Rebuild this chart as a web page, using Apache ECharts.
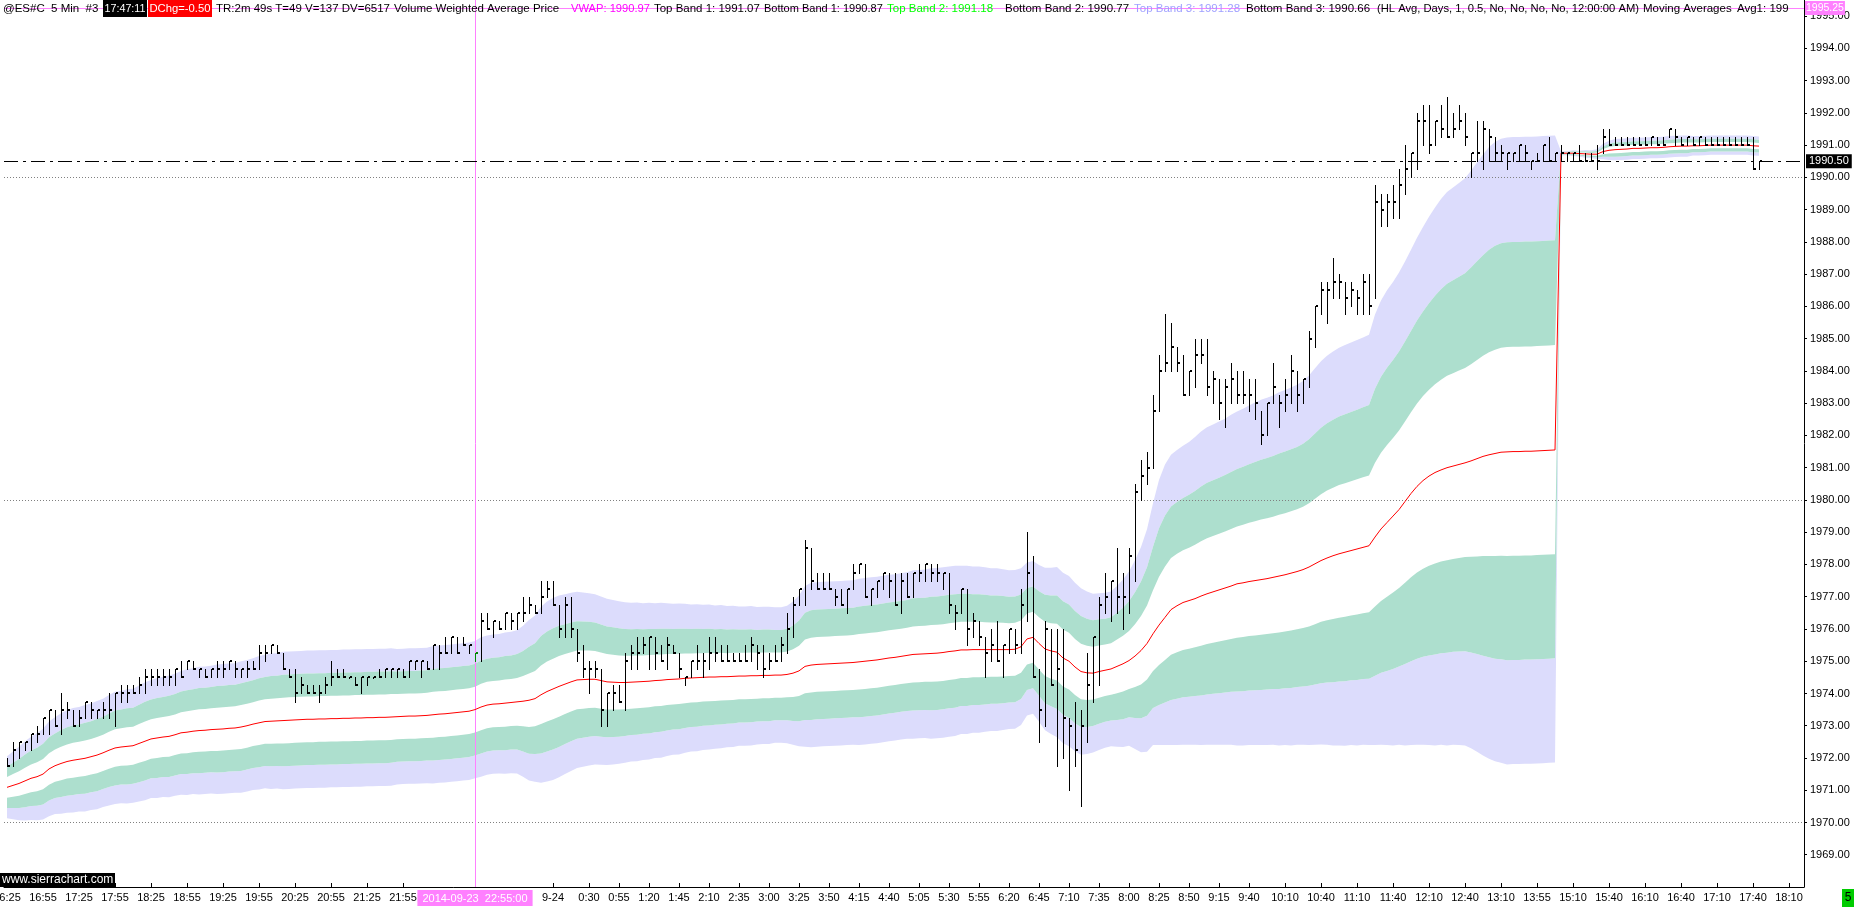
<!DOCTYPE html>
<html>
<head>
<meta charset="utf-8">
<script src="https://cdn.jsdelivr.net/npm/echarts/dist/echarts.min.js"></script>
<style>
html,body{margin:0;padding:0;background:#fff;overflow:hidden;}
#chart{width:1854px;height:908px;}
</style>
</head>
<body>
<div id="chart"></div>
<script>
// ---------------- DATA ----------------
const high = [
1972.0,1972.5,1972.5,1972.5,1972.75,1973.0,1973.25,1973.5,1973.5,1974.0,
1973.75,1973.5,1973.5,1973.75,1973.75,1973.5,1973.75,1974.0,1974.0,1974.25,
1974.25,1974.25,1974.5,1974.75,1974.75,1974.75,1974.75,1974.75,1974.75,1975.0,
1975.0,1975.0,1974.75,1974.75,1974.75,1975.0,1975.0,1975.0,1975.0,1974.75,
1975.0,1975.0,1975.5,1975.5,1975.5,1975.5,1975.25,1974.75,1974.75,1974.5,
1974.25,1974.25,1974.25,1974.5,1975.0,1974.75,1974.75,1974.5,1974.5,1974.5,
1974.5,1974.5,1974.75,1974.75,1974.75,1974.75,1974.75,1975.0,1975.0,1975.0,
1975.0,1975.5,1975.5,1975.75,1975.75,1975.75,1975.75,1975.5,1975.25,1976.5,
1976.5,1976.25,1976.25,1976.5,1976.5,1976.5,1977.0,1977.0,1976.75,1977.5,
1977.5,1977.5,1976.75,1977.0,1977.0,1976.0,1975.5,1975.0,1975.0,1974.75,
1974.0,1974.25,1974.25,1975.25,1975.5,1975.75,1975.75,1975.75,1975.75,1975.5,
1975.75,1975.5,1975.25,1974.5,1975.0,1975.5,1975.25,1975.75,1975.75,1975.5,
1975.5,1975.25,1975.25,1975.5,1975.75,1975.5,1975.5,1975.25,1975.5,1975.75,
1976.5,1977.0,1977.25,1978.75,1978.5,1977.75,1977.75,1977.75,1977.25,1977.25,
1977.25,1978.0,1978.0,1978.0,1977.25,1977.5,1977.75,1977.75,1977.75,1977.75,
1977.75,1977.75,1978.0,1978.0,1978.0,1978.0,1977.75,1977.75,1976.75,1977.25,
1977.25,1976.5,1976.25,1975.75,1976.0,1976.25,1975.5,1976.0,1976.0,1977.25,
1979.0,1978.25,1974.75,1976.25,1976.0,1976.0,1976.0,1973.25,1973.75,1973.5,
1975.25,1975.75,1977.0,1977.75,1977.5,1978.5,1977.75,1978.5,1980.5,1981.25,
1981.5,1983.25,1984.5,1985.75,1985.5,1984.75,1984.5,1984.0,1985.0,1985.0,
1985.0,1984.0,1983.75,1983.75,1984.25,1984.0,1984.0,1983.75,1983.75,1982.75,
1983.0,1984.25,1983.25,1983.75,1984.5,1984.0,1983.75,1985.25,1986.0,1986.75,
1986.75,1987.5,1987.0,1986.75,1986.75,1986.5,1987.0,1987.0,1989.75,1989.5,
1989.5,1989.75,1990.25,1991.0,1990.75,1992.0,1992.25,1992.25,1991.75,1992.25,
1992.5,1992.0,1992.25,1992.0,1990.75,1991.75,1991.75,1991.5,1991.25,1991.0,
1990.75,1990.75,1991.0,1991.0,1990.5,1990.75,1991.0,1991.25,1990.75,1991.0,
1990.75,1990.75,1991.0,1990.75,1990.75,1991.0,1991.5,1991.5,1991.25,1991.25,
1991.25,1991.25,1991.25,1991.25,1991.25,1991.25,1991.25,1991.5,1991.5,1991.25,
1991.25,1991.25,1991.25,1991.25,1991.25,1991.25,1991.25,1991.25,1991.25,1991.25,
1991.25,1991.25,1990.5
];
const low = [
1971.75,1971.75,1972.0,1972.25,1972.25,1972.5,1972.75,1972.75,1973.0,1972.75,
1973.25,1973.0,1973.0,1973.25,1973.25,1973.25,1973.25,1973.25,1973.0,1973.75,
1973.75,1974.0,1974.0,1974.0,1974.25,1974.25,1974.25,1974.25,1974.25,1974.5,
1974.75,1974.75,1974.5,1974.5,1974.5,1974.5,1974.5,1974.75,1974.5,1974.5,
1974.5,1974.75,1974.75,1975.0,1975.25,1975.25,1974.75,1974.5,1973.75,1974.0,
1974.0,1974.0,1973.75,1974.0,1974.25,1974.5,1974.5,1974.5,1974.25,1974.0,
1974.25,1974.5,1974.5,1974.5,1974.5,1974.5,1974.5,1974.5,1974.75,1974.5,
1974.75,1974.75,1974.75,1975.25,1975.25,1975.25,1975.5,1975.25,1975.0,1975.0,
1976.0,1975.75,1976.0,1976.0,1976.0,1976.0,1976.25,1976.5,1976.5,1976.5,
1977.0,1976.75,1975.75,1975.75,1975.75,1975.0,1974.5,1974.0,1974.5,1973.0,
1973.0,1973.5,1973.75,1973.5,1974.75,1974.75,1975.25,1974.75,1974.75,1975.0,
1974.75,1975.25,1974.5,1974.25,1974.5,1974.75,1974.5,1974.75,1975.0,1975.0,
1975.0,1975.0,1975.0,1975.0,1975.0,1974.75,1974.5,1974.75,1975.0,1975.0,
1975.25,1975.75,1976.75,1976.75,1977.25,1977.25,1977.25,1977.25,1976.75,1976.75,
1976.5,1977.25,1977.75,1977.0,1976.75,1977.0,1977.25,1977.0,1976.75,1976.5,
1977.0,1977.0,1977.5,1977.5,1977.5,1977.5,1977.25,1976.5,1976.0,1976.5,
1975.5,1975.75,1975.5,1974.5,1975.0,1975.0,1974.5,1975.25,1975.25,1975.25,
1976.25,1974.5,1972.5,1973.0,1974.25,1971.75,1972.0,1971.0,1971.75,1970.5,
1972.5,1973.75,1974.25,1976.5,1976.25,1976.5,1976.0,1976.5,1977.5,1980.0,
1980.5,1981.0,1982.75,1984.0,1984.0,1984.0,1983.25,1983.25,1983.5,1984.25,
1983.25,1983.0,1982.5,1982.25,1983.0,1983.0,1983.0,1982.75,1982.5,1981.75,
1982.0,1983.0,1982.25,1982.75,1983.0,1982.75,1983.0,1983.5,1984.75,1985.75,
1985.5,1986.25,1986.25,1985.75,1986.0,1985.75,1985.75,1985.75,1986.25,1988.5,
1988.5,1988.75,1988.75,1989.5,1990.0,1990.25,1991.0,1990.75,1991.0,1991.25,
1991.25,1991.25,1991.5,1991.0,1990.0,1990.5,1990.25,1990.5,1990.5,1990.5,
1990.25,1990.5,1990.5,1990.5,1990.25,1990.5,1990.5,1990.5,1990.5,1990.5,
1990.5,1990.5,1990.5,1990.5,1990.5,1990.25,1990.75,1991.0,1991.0,1991.0,
1991.0,1991.0,1991.0,1991.0,1991.0,1991.0,1991.0,1991.25,1991.0,1991.0,
1991.0,1991.0,1991.0,1991.0,1991.0,1991.0,1991.0,1991.0,1991.0,1991.0,
1991.0,1990.25,1990.25
];
const close = [
1971.75,1972.25,1972.5,1972.5,1972.75,1972.75,1973.25,1973.5,1973.0,1973.5,
1973.5,1973.0,1973.25,1973.75,1973.5,1973.5,1973.5,1973.5,1974.0,1974.0,
1974.0,1974.0,1974.25,1974.5,1974.5,1974.5,1974.5,1974.5,1974.75,1974.5,
1975.0,1974.75,1974.75,1974.5,1974.75,1974.75,1974.75,1975.0,1974.75,1974.75,
1974.75,1974.75,1975.25,1975.25,1975.5,1975.25,1974.75,1974.5,1974.0,1974.25,
1974.0,1974.0,1974.0,1974.25,1974.5,1974.5,1974.5,1974.5,1974.25,1974.5,
1974.5,1974.5,1974.5,1974.75,1974.75,1974.75,1974.5,1975.0,1975.0,1975.0,
1974.75,1975.5,1975.25,1975.25,1975.75,1975.25,1975.5,1975.5,1975.25,1976.25,
1976.0,1976.25,1976.0,1976.5,1976.25,1976.5,1976.5,1976.75,1976.5,1977.0,
1977.25,1976.75,1976.0,1976.75,1976.0,1975.25,1974.75,1974.75,1974.75,1973.5,
1974.0,1974.0,1973.75,1975.0,1975.25,1975.25,1975.5,1975.75,1975.25,1975.0,
1975.5,1975.25,1974.75,1974.5,1975.0,1975.0,1975.0,1975.25,1975.25,1975.0,
1975.0,1975.0,1975.0,1975.0,1975.5,1975.25,1974.75,1975.0,1975.0,1975.5,
1976.0,1976.75,1977.25,1978.5,1977.5,1977.25,1977.25,1977.25,1977.0,1976.75,
1977.25,1977.75,1978.0,1977.0,1977.25,1977.5,1977.75,1977.5,1976.75,1977.5,
1977.0,1977.75,1977.75,1978.0,1977.75,1977.75,1977.75,1976.75,1976.5,1977.25,
1976.0,1976.25,1975.75,1975.25,1975.5,1975.0,1975.5,1976.0,1975.5,1976.75,
1977.75,1974.5,1973.5,1976.0,1974.25,1974.75,1973.25,1973.0,1972.25,1973.0,
1974.25,1975.75,1976.75,1977.0,1977.5,1977.0,1977.0,1978.25,1980.25,1980.75,
1981.0,1982.75,1984.0,1984.25,1984.75,1984.25,1983.25,1984.0,1984.5,1984.5,
1983.5,1983.75,1983.0,1983.5,1983.75,1983.25,1983.25,1983.25,1983.0,1982.0,
1983.0,1983.5,1983.0,1983.25,1984.0,1983.25,1983.75,1985.0,1986.0,1986.5,
1986.5,1986.75,1986.75,1986.25,1986.5,1986.25,1986.75,1986.0,1989.25,1989.0,
1989.25,1989.25,1989.75,1990.25,1990.75,1991.75,1991.75,1991.0,1991.75,1991.5,
1991.25,1991.5,1991.75,1991.25,1990.75,1990.75,1991.5,1991.25,1990.75,1990.75,
1990.75,1990.75,1991.0,1990.75,1990.5,1990.5,1991.0,1990.5,1990.75,1990.75,
1990.75,1990.75,1990.5,1990.5,1990.5,1990.5,1991.25,1991.0,1991.0,1991.0,
1991.0,1991.0,1991.0,1991.0,1991.25,1991.0,1991.0,1991.5,1991.25,1991.0,
1991.25,1991.0,1991.25,1991.0,1991.0,1991.0,1991.0,1991.0,1991.0,1991.0,
1991.0,1990.25,1990.5
];
const vwap = [
1971.09,1971.15,1971.21,1971.29,1971.37,1971.42,1971.50,1971.66,1971.76,1971.83,
1971.89,1971.93,1971.96,1971.99,1972.04,1972.09,1972.16,1972.24,1972.31,1972.34,
1972.36,1972.38,1972.45,1972.52,1972.59,1972.62,1972.65,1972.67,1972.72,1972.78,
1972.80,1972.83,1972.85,1972.86,1972.88,1972.89,1972.90,1972.92,1972.93,1972.96,
1973.00,1973.05,1973.09,1973.13,1973.14,1973.15,1973.16,1973.17,1973.18,1973.19,
1973.20,1973.20,1973.21,1973.21,1973.22,1973.22,1973.23,1973.23,1973.24,1973.24,
1973.25,1973.25,1973.26,1973.26,1973.27,1973.28,1973.29,1973.30,1973.30,1973.31,
1973.32,1973.34,1973.36,1973.37,1973.39,1973.41,1973.43,1973.45,1973.50,1973.58,
1973.64,1973.67,1973.68,1973.70,1973.72,1973.74,1973.76,1973.79,1973.84,1973.96,
1974.06,1974.14,1974.22,1974.29,1974.36,1974.42,1974.43,1974.44,1974.44,1974.40,
1974.36,1974.35,1974.34,1974.34,1974.35,1974.36,1974.37,1974.38,1974.40,1974.41,
1974.43,1974.44,1974.45,1974.47,1974.48,1974.49,1974.50,1974.51,1974.51,1974.52,
1974.52,1974.53,1974.54,1974.54,1974.55,1974.55,1974.56,1974.56,1974.57,1974.57,
1974.59,1974.63,1974.70,1974.84,1974.88,1974.90,1974.91,1974.92,1974.93,1974.94,
1974.95,1974.96,1974.98,1975.00,1975.02,1975.04,1975.07,1975.10,1975.12,1975.15,
1975.18,1975.21,1975.22,1975.23,1975.24,1975.25,1975.27,1975.30,1975.32,1975.35,
1975.35,1975.36,1975.36,1975.36,1975.36,1975.36,1975.36,1975.36,1975.37,1975.45,
1975.69,1975.74,1975.55,1975.38,1975.32,1975.28,1975.10,1975.00,1974.82,1974.68,
1974.64,1974.63,1974.68,1974.72,1974.76,1974.84,1974.92,1975.02,1975.16,1975.33,
1975.55,1975.85,1976.12,1976.36,1976.60,1976.72,1976.82,1976.88,1976.94,1977.02,
1977.09,1977.15,1977.21,1977.27,1977.33,1977.40,1977.43,1977.47,1977.50,1977.53,
1977.56,1977.60,1977.64,1977.68,1977.73,1977.78,1977.84,1977.92,1978.02,1978.12,
1978.20,1978.27,1978.33,1978.38,1978.43,1978.48,1978.53,1978.58,1978.85,1979.10,
1979.30,1979.50,1979.70,1979.95,1980.20,1980.42,1980.60,1980.74,1980.85,1980.93,
1981.00,1981.05,1981.10,1981.15,1981.21,1981.28,1981.35,1981.40,1981.44,1981.48,
1981.49,1981.50,1981.50,1981.51,1981.51,1981.52,1981.53,1981.54,1981.55,1990.75,
1990.75,1990.75,1990.74,1990.73,1990.72,1990.72,1990.80,1990.84,1990.86,1990.87,
1990.88,1990.90,1990.90,1990.91,1990.92,1990.92,1990.93,1990.95,1990.96,1990.97,
1990.97,1990.98,1990.98,1990.99,1991.00,1991.00,1991.00,1991.00,1991.00,1991.00,
1991.00,1990.98,1990.97
];
// distance between successive bands above the VWAP
const bandStepUp = [
0.32,0.35,0.38,0.41,0.43,0.45,0.47,0.49,0.50,0.52,
0.53,0.54,0.54,0.55,0.55,0.56,0.56,0.57,0.58,0.58,
0.59,0.59,0.60,0.61,0.61,0.62,0.62,0.63,0.63,0.64,
0.65,0.65,0.66,0.66,0.66,0.67,0.67,0.67,0.67,0.68,
0.68,0.68,0.69,0.69,0.70,0.70,0.71,0.71,0.71,0.71,
0.71,0.71,0.71,0.71,0.71,0.71,0.71,0.71,0.71,0.71,
0.71,0.71,0.71,0.71,0.71,0.70,0.70,0.70,0.70,0.70,
0.70,0.71,0.71,0.71,0.71,0.71,0.71,0.71,0.71,0.72,
0.72,0.72,0.72,0.73,0.73,0.74,0.78,0.83,0.86,0.91,
0.93,0.94,0.94,0.93,0.92,0.91,0.90,0.89,0.88,0.87,
0.86,0.85,0.84,0.83,0.82,0.82,0.81,0.81,0.80,0.80,
0.79,0.78,0.78,0.77,0.76,0.76,0.75,0.75,0.74,0.74,
0.73,0.73,0.72,0.72,0.72,0.71,0.71,0.71,0.70,0.70,
0.71,0.74,0.78,0.83,0.85,0.85,0.85,0.85,0.85,0.85,
0.85,0.85,0.86,0.86,0.86,0.86,0.86,0.86,0.86,0.86,
0.86,0.87,0.87,0.87,0.88,0.88,0.88,0.88,0.88,0.87,
0.87,0.86,0.86,0.85,0.84,0.84,0.83,0.82,0.82,0.81,
0.79,0.79,0.81,0.84,0.86,0.88,0.88,0.88,0.87,0.86,
0.84,0.82,0.81,0.80,0.80,0.83,0.87,0.92,0.99,1.07,
1.18,1.35,1.50,1.58,1.60,1.61,1.62,1.64,1.67,1.70,
1.72,1.73,1.74,1.75,1.77,1.78,1.80,1.82,1.84,1.86,
1.87,1.88,1.90,1.91,1.92,1.93,1.95,1.98,2.02,2.06,
2.09,2.11,2.13,2.14,2.15,2.16,2.17,2.18,2.30,2.36,
2.40,2.42,2.45,2.48,2.52,2.57,2.62,2.68,2.74,2.80,
2.85,2.88,2.91,2.94,3.00,3.06,3.12,3.18,3.22,3.24,
3.25,3.25,3.25,3.25,3.25,3.25,3.25,3.25,3.25,0.02,
0.02,0.03,0.03,0.04,0.04,0.05,0.08,0.10,0.11,0.11,
0.11,0.11,0.11,0.11,0.11,0.11,0.11,0.11,0.11,0.11,
0.11,0.10,0.10,0.10,0.10,0.10,0.10,0.10,0.10,0.10,
0.10,0.10,0.10
];
// distance between successive bands below the VWAP
const bandStepDown = [
0.32,0.35,0.38,0.41,0.43,0.45,0.47,0.49,0.50,0.52,
0.53,0.54,0.54,0.55,0.55,0.56,0.56,0.57,0.58,0.58,
0.59,0.59,0.60,0.61,0.61,0.62,0.62,0.63,0.63,0.64,
0.65,0.65,0.66,0.66,0.66,0.67,0.67,0.67,0.67,0.68,
0.68,0.68,0.69,0.69,0.70,0.70,0.71,0.71,0.71,0.71,
0.71,0.71,0.71,0.71,0.71,0.71,0.71,0.71,0.71,0.71,
0.71,0.71,0.71,0.71,0.71,0.70,0.70,0.70,0.70,0.70,
0.70,0.71,0.71,0.71,0.71,0.71,0.71,0.71,0.71,0.72,
0.72,0.72,0.72,0.73,0.73,0.74,0.78,0.83,0.86,0.91,
0.93,0.94,0.94,0.93,0.92,0.91,0.90,0.89,0.88,0.87,
0.86,0.85,0.84,0.83,0.82,0.82,0.81,0.81,0.80,0.80,
0.79,0.78,0.78,0.77,0.76,0.76,0.75,0.75,0.74,0.74,
0.73,0.73,0.72,0.72,0.72,0.71,0.71,0.71,0.70,0.70,
0.71,0.74,0.78,0.83,0.85,0.85,0.85,0.85,0.85,0.85,
0.85,0.85,0.86,0.86,0.86,0.86,0.86,0.86,0.86,0.86,
0.86,0.87,0.87,0.87,0.88,0.88,0.88,0.88,0.88,0.87,
0.87,0.86,0.86,0.85,0.84,0.84,0.83,0.82,0.82,0.81,
0.79,0.79,0.81,0.84,0.86,0.88,0.88,0.88,0.87,0.86,
0.84,0.82,0.81,0.80,0.80,0.83,0.86,0.88,0.96,1.05,
1.12,1.15,1.24,1.32,1.40,1.44,1.47,1.49,1.51,1.54,
1.56,1.58,1.60,1.62,1.64,1.67,1.68,1.69,1.70,1.71,
1.72,1.73,1.75,1.76,1.78,1.79,1.81,1.84,1.87,1.90,
1.93,1.96,1.98,2.00,2.01,2.03,2.04,2.06,2.15,2.23,
2.30,2.37,2.43,2.52,2.60,2.67,2.73,2.78,2.82,2.84,
2.87,2.88,2.90,2.92,2.97,3.03,3.09,3.14,3.18,3.21,
3.23,3.23,3.23,3.23,3.23,3.23,3.23,3.23,3.23,0.02,
0.02,0.03,0.03,0.04,0.04,0.05,0.08,0.10,0.11,0.11,
0.11,0.11,0.11,0.11,0.11,0.11,0.11,0.11,0.11,0.11,
0.11,0.10,0.10,0.10,0.10,0.10,0.10,0.10,0.10,0.10,
0.10,0.10,0.10
];
const xTickIndex = [0,6,12,18,24,30,36,42,48,54,60,66,91,97,102,107,112,117,122,127,132,137,142,147,152,157,162,167,172,177,182,187,192,197,202,207,213,219,225,231,237,243,249,255,261,267,273,279,285,291,297];
const xTickText = ['16:25','16:55','17:25','17:55','18:25','18:55','19:25','19:55','20:25','20:55','21:25','21:55','9-24','0:30','0:55','1:20','1:45','2:10','2:35','3:00','3:25','3:50','4:15','4:40','5:05','5:30','5:55','6:20','6:45','7:10','7:35','8:00','8:25','8:50','9:15','9:40','10:10','10:40','11:10','11:40','12:10','12:40','13:10','13:55','15:10','15:40','16:10','16:40','17:10','17:40','18:10'];
const gridPrices = [1990, 1980, 1970];
const lastPrice = 1990.50;
const cursorPrice = 1995.25;
const cursorIndex = 78;
const cursorLabel = '2014-09-23  22:55:00';
const slotCount = 300;   // 293 bars + empty future slots

// 5-minute bar times, session halts 13:15-13:30 and 14:15-15:00
const categories = (function () {
  const out = []; let day = 23, m = 16 * 60 + 25;
  while (out.length < slotCount) {
    out.push('9-' + day + ' ' + Math.floor(m / 60) + ':' + String(m % 60).padStart(2, '0'));
    m += 5;
    if (m >= 1440) { m -= 1440; day++; }
    if (m === 13 * 60 + 15) m = 13 * 60 + 30;
    if (m === 14 * 60 + 15) m = 15 * 60;
  }
  return out;
})();

// ---------------- CHART ----------------
const FONT = '"Liberation Sans", Arial, sans-serif';
const LAV = '#dcdcfc', GREEN = '#addfce';
const tickMap = {}; xTickIndex.forEach((k, j) => tickMap[k] = xTickText[j]);
const bandUp = k => vwap.map((v, i) => +(v + k * bandStepUp[i]).toFixed(3));
const bandDown = k => vwap.map((v, i) => +(v - k * bandStepDown[i]).toFixed(3));
const bars = high.map((h, i) => [i, h, low[i], close[i]]);

function fillPair(stack, baseData, stepData, color, z) {
  return [
    { type: 'line', stack: stack, data: baseData, symbol: 'none', silent: true, z: z,
      lineStyle: { opacity: 0, width: 0 } },
    { type: 'line', stack: stack, data: stepData, symbol: 'none', silent: true, z: z,
      lineStyle: { opacity: 0, width: 0 }, areaStyle: { color: color, opacity: 1 } }
  ];
}

const chart = echarts.init(document.getElementById('chart'), null, { renderer: 'canvas' });

// header (status line) – texts placed where they sit in the reference
const HEADER_PX = 11.5;
const headerItems = [
  { x: 3, text: '@ES#C  5 Min  #3', color: '#000' },
  { x: 103, w: 44, text: '17:47:11', color: '#fff', bg: '#000' },
  { x: 148, w: 64, text: 'DChg=-0.50', color: '#fff', bg: '#ff0000' },
  { x: 216, text: 'TR:2m 49s T=49 V=137 DV=6517', color: '#000' },
  { x: 394, text: 'Volume Weighted Average Price', color: '#000' },
  { x: 571, text: 'VWAP: 1990.97', color: '#ff00ff' },
  { x: 654, text: 'Top Band 1: 1991.07', color: '#000' },
  { x: 764, text: 'Bottom Band 1: 1990.87', color: '#000' },
  { x: 887, text: 'Top Band 2: 1991.18', color: '#00ff00' },
  { x: 1005, text: 'Bottom Band 2: 1990.77', color: '#000' },
  { x: 1134, text: 'Top Band 3: 1991.28', color: '#a0a0ff' },
  { x: 1246, text: 'Bottom Band 3: 1990.66', color: '#000' },
  { x: 1377, text: '(HL Avg, Days, 1, 0.5, No, No, No, No, 12:00:00 AM)', color: '#000' },
  { x: 1643, text: 'Moving Averages', color: '#000' },
  { x: 1737, text: 'Avg1: 199', color: '#000' }
];
const measureCtx = document.createElement('canvas').getContext('2d');
function fitSize(text, maxW, base) {
  measureCtx.font = base + 'px ' + FONT;
  const w = measureCtx.measureText(text).width;
  return w > maxW ? Math.max(10, base * maxW / w) : base;
}
const graphics = [];
headerItems.forEach((h, j) => {
  const next = j + 1 < headerItems.length ? headerItems[j + 1].x : 1804;
  const maxW = h.bg ? h.w - 3 : next - h.x - 4;
  const fs = fitSize(h.text, maxW, HEADER_PX);
  if (h.bg) graphics.push({ type: 'rect', z: 100, shape: { x: h.x, y: 0, width: h.w, height: 17 }, style: { fill: h.bg } });
  graphics.push({ type: 'text', z: 101, style: { x: h.bg ? h.x + 1.5 : h.x, y: 9, text: h.text, fill: h.color,
    font: fs.toFixed(2) + 'px ' + FONT, verticalAlign: 'middle', textVerticalAlign: 'middle' } });
});
graphics.push({ type: 'rect', z: 100, shape: { x: 0, y: 873, width: 115, height: 14 }, style: { fill: '#000' } });
graphics.push({ type: 'text', z: 101, style: { x: 2, y: 880, text: 'www.sierrachart.com', fill: '#fff',
  font: '12px ' + FONT, verticalAlign: 'middle', textVerticalAlign: 'middle' } });
graphics.push({ type: 'rect', z: 100, shape: { x: 1842, y: 889, width: 12, height: 18 }, style: { fill: '#00cc00' } });
graphics.push({ type: 'text', z: 101, style: { x: 1848, y: 898, text: '5', fill: '#000', align: 'center', textAlign: 'center',
  font: '12px ' + FONT, verticalAlign: 'middle', textVerticalAlign: 'middle' } });

const option = {
  animation: false,
  backgroundColor: '#fff',
  textStyle: { fontFamily: FONT },
  grid: { left: 4, right: 50, top: 0, bottom: 21, containLabel: false, outerBoundsMode: 'none' },
  xAxis: {
    type: 'category', data: categories, boundaryGap: true,
    axisLine: { onZero: false, lineStyle: { color: '#000', width: 1 } },
    axisTick: { show: true, inside: true, length: 4, alignWithLabel: true,
      interval: i => tickMap[i] !== undefined, lineStyle: { color: '#000' } },
    axisLabel: { interval: i => tickMap[i] !== undefined, formatter: (v, i) => tickMap[i] || '',
      color: '#000', fontSize: 11, fontFamily: FONT, margin: 5, hideOverlap: false },
    splitLine: { show: false }
  },
  yAxis: {
    type: 'value', position: 'right', min: 1968, max: 1995.5, interval: 1, scale: true,
    axisLine: { show: true, lineStyle: { color: '#000', width: 1 } },
    axisTick: { show: true, length: 3, lineStyle: { color: '#000' } },
    axisLabel: { formatter: v => v.toFixed(2), color: '#000', fontSize: 11, fontFamily: FONT, margin: 6,
      showMinLabel: false, showMaxLabel: false },
    splitLine: { show: false }
  },
  series: [
    ...fillPair('lowLav', bandDown(3), bandStepDown, LAV, 1),
    ...fillPair('upLav', bandUp(2), bandStepUp, LAV, 1),
    { type: 'line', data: vwap, symbol: 'none', silent: true, z: 2, lineStyle: { opacity: 0, width: 0 },
      markLine: { silent: true, symbol: 'none', label: { show: false },
        lineStyle: { color: '#808080', type: [1, 2], width: 1 },
        data: gridPrices.map(p => ({ yAxis: p })) } },
    ...fillPair('lowGreen', bandDown(2), bandStepDown, GREEN, 3),
    ...fillPair('upGreen', bandUp(1), bandStepUp, GREEN, 3),
    { type: 'line', data: vwap, symbol: 'none', silent: true, z: 4, lineStyle: { opacity: 0, width: 0 },
      markLine: { silent: true, symbol: 'none',
        lineStyle: { color: '#ff80ff', type: 'solid', width: 1 },
        data: [
          { yAxis: cursorPrice, label: { show: true, position: 'end', distance: 1, formatter: cursorPrice.toFixed(2),
            color: '#fff', backgroundColor: '#ff80ff', padding: [2, 1, 1, 1], fontSize: 10.5, fontFamily: FONT } },
          { xAxis: categories[cursorIndex], label: { show: true, position: 'start', distance: 3, formatter: cursorLabel,
            color: '#fff', backgroundColor: '#ff80ff', padding: [3, 5, 2, 5], fontSize: 11, fontFamily: FONT } }
        ] } },
    { type: 'line', name: 'VWAP', data: vwap, symbol: 'none', silent: true, z: 5,
      lineStyle: { color: '#ff0000', width: 1 } },
    { type: 'custom', name: 'bars', data: bars, z: 6, silent: true,
      encode: { x: 0, y: [1, 2, 3] },
      renderItem: function (params, api) {
        const i = api.value(0);
        const pH = api.coord([i, api.value(1)]);
        const pL = api.coord([i, api.value(2)]);
        const pC = api.coord([i, api.value(3)]);
        const x = Math.round(pH[0]);
        const y1 = Math.round(pH[1]);
        let y2 = Math.round(pL[1]); if (y2 - y1 < 1) y2 = y1 + 1;
        const yc = Math.round(pC[1]);
        const col = i === cursorIndex ? '#008800' : '#000';
        return { type: 'group', children: [
          { type: 'rect', shape: { x: x, y: y1, width: 1, height: y2 - y1 + 1 }, style: { fill: col } },
          { type: 'rect', shape: { x: x + 1, y: yc - 1, width: 2, height: 2 }, style: { fill: col } }
        ] };
      } },
    { type: 'line', data: vwap, symbol: 'none', silent: true, z: 7, lineStyle: { opacity: 0, width: 0 },
      markLine: { silent: true, symbol: 'none',
        lineStyle: { color: '#000', type: [14, 5, 3, 5], width: 1 },
        data: [{ yAxis: lastPrice, label: { show: true, position: 'end', distance: 2, formatter: lastPrice.toFixed(2),
          color: '#fff', backgroundColor: '#000', padding: [2, 3, 1, 3], fontSize: 11, fontFamily: FONT } }] } }
  ],
  graphic: graphics
};
chart.setOption(option);
</script>
</body>
</html>
